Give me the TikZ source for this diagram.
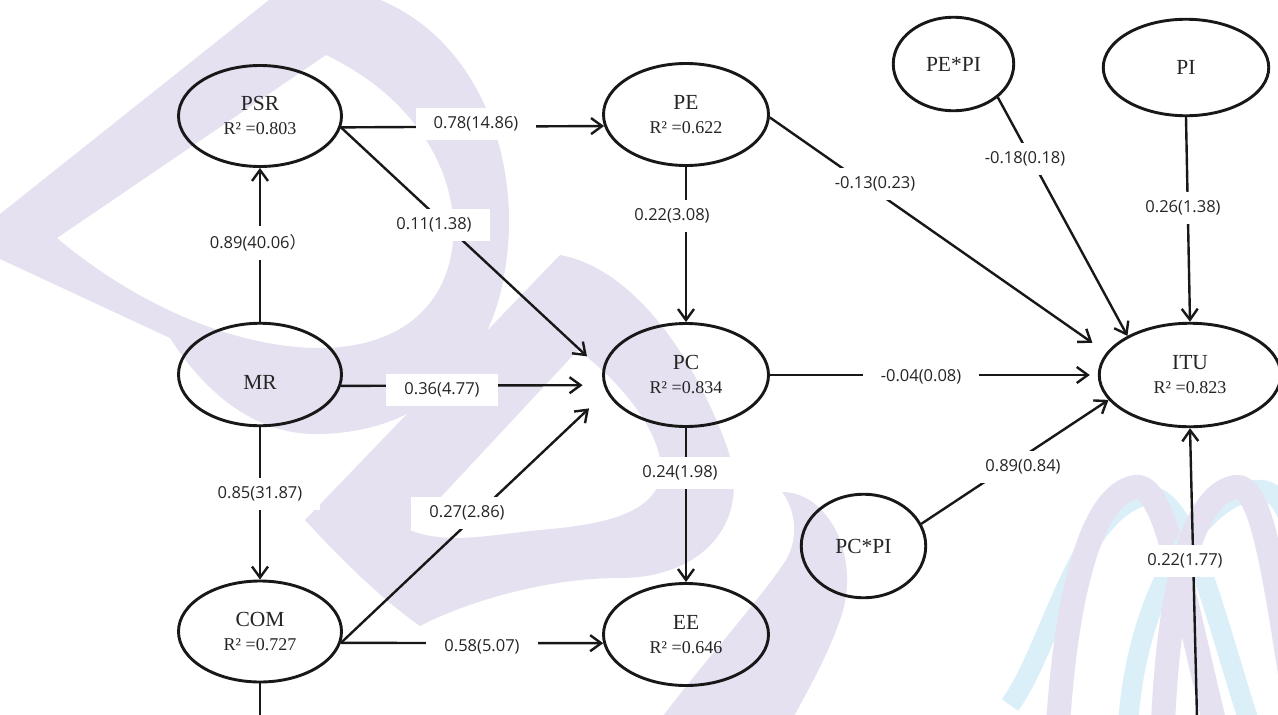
\documentclass[tikz,border=0pt]{standalone}
\usepackage{fontspec}
\setmainfont{Liberation Serif}
\newfontfamily\lblfont{Open Sans}
\newfontfamily\cjkfont{Noto Sans CJK SC}
\usetikzlibrary{arrows.meta,shapes.geometric}
\definecolor{wmlav}{HTML}{E5E1F0}
\definecolor{wmcyan}{HTML}{DAEFF7}
\definecolor{ink}{HTML}{181818}
\definecolor{txt}{HTML}{252525}
\tikzset{
  latent/.style={ellipse, draw=ink, line width=2.9pt, inner sep=0pt, text=txt,
    font=\fontsize{21.5}{24}\selectfont, align=center},
  conn/.style={draw=ink, line width=2.4pt},
  effect/.style={conn, -{Straight Barb[length=11pt,width=16pt]}},
  coef/.style={fill=white, inner xsep=18pt, inner ysep=9pt, text=txt,
    font=\lblfont\fontsize{16.5}{19}\selectfont},
}
\newcommand{\rtwo}[1]{{\fontsize{18}{20}\selectfont R² =#1}}
\begin{document}
\begin{tikzpicture}[x=1pt,y=-1pt]
\useasboundingbox (0,0) rectangle (1278,715);
\fill[white] (0,0) rectangle (1278,715);

% faint background logo
\begin{scope}
  \clip (0,0) rectangle (1278,715);
  % large slanted letter on the left
  \fill[wmlav, even odd rule]
    (-15,226) -- (284,-12) -- (340,-12) .. controls (470,12) and (525,150) .. (505,270)
    .. controls (490,370) and (420,432) .. (320,434) .. controls (250,436) and (200,385) .. (170,338)
    -- (-15,252) -- cycle
    (57,238) -- (326,55) .. controls (420,100) and (462,180) .. (452,250)
    .. controls (442,315) and (390,348) .. (320,348) .. controls (230,348) and (130,300) .. (57,238) -- cycle;
  % second letter in the middle
  \fill[wmlav, even odd rule]
    (305,520) -- (560,255) .. controls (640,270) and (700,370) .. (728,450)
    .. controls (752,525) and (700,578) .. (620,578) .. controls (540,578) and (460,605) .. (420,626)
    .. controls (380,598) and (340,558) .. (305,520) -- cycle
    (410,530) -- (578,350) .. controls (625,385) and (668,440) .. (660,480)
    .. controls (650,515) and (600,525) .. (540,530) .. controls (490,535) and (445,545) .. (410,530) -- cycle;
  % curved stroke at the bottom
  \fill[wmlav]
    (782,492) .. controls (830,492) and (862,560) .. (840,620) .. controls (825,662) and (805,695) .. (792,720)
    -- (660,720) .. controls (705,660) and (760,600) .. (786,560) .. controls (798,540) and (797,512) .. (782,492) -- cycle;
  % ribbons in the lower right corner
  \draw[wmcyan, line width=20pt] (1010,705) .. controls (1050,650) and (1075,520) .. (1140,497)
    .. controls (1185,482) and (1210,600) .. (1250,725);
  \draw[wmlav, line width=24pt] (1058,725) .. controls (1066,600) and (1090,495) .. (1135,487)
    .. controls (1165,482) and (1182,590) .. (1215,725);
  \draw[wmcyan, line width=20pt] (1128,725) .. controls (1136,600) and (1195,500) .. (1255,490)
    .. controls (1295,485) and (1305,560) .. (1320,725);
  \draw[wmlav, line width=24pt] (1163,725) .. controls (1168,600) and (1190,495) .. (1235,487)
    .. controls (1262,483) and (1274,570) .. (1298,725);
\end{scope}

% constructs
\node[latent, minimum width=163pt, minimum height=101pt] (PSR) at (260,116) {PSR\\\rtwo{0.803}};
\node[latent, minimum width=163pt, minimum height=102.5pt, text height=29pt, text depth=0pt] (MR) at (260,374.5) {MR};
\node[latent, minimum width=163pt, minimum height=101pt] (COM) at (260,631.5) {COM\\\rtwo{0.727}};
\node[latent, minimum width=165pt, minimum height=102pt] (PE) at (686,114.5) {PE\\\rtwo{0.622}};
\node[latent, minimum width=165pt, minimum height=103pt] (PC) at (686,375) {PC\\\rtwo{0.834}};
\node[latent, minimum width=165pt, minimum height=102pt] (EE) at (686,634.5) {EE\\\rtwo{0.646}};
\node[latent, minimum width=120.5pt, minimum height=93.5pt] (PEPI) at (953.5,64) {PE*PI};
\node[latent, minimum width=165.5pt, minimum height=96.5pt] (PI) at (1186,67.5) {PI};
\node[latent, minimum width=124.5pt, minimum height=103.5pt] (PCPI) at (863.5,546) {PC*PI};
\node[latent, minimum width=181.5pt, minimum height=103.5pt] (ITU) at (1190,375) {ITU\\\rtwo{0.823}};

% paths that leave the drawing area
\coordinate (COMout) at (260,718);
\coordinate (ITUin) at (1197,718);

% structural paths
\draw[effect] (MR.north) -- (PSR.south);
\draw[effect] (MR.south) -- (COM.north);
\draw[effect] (PSR.-8) -- (PE.188);
\draw[effect, shorten >=21pt] (PSR.-8) -- (PC.177);
\draw[effect, shorten >=21pt] (MR.-8) -- (PC.187);
\draw[effect, shorten >=24pt] (COM.-8) -- (PC.192);
\draw[effect] (COM.-8) -- (EE.186);
\draw[effect] (PE.south) -- (PC.north);
\draw[effect] (PC.south) -- (EE.north);
\draw[effect, shorten >=17pt] (PE.-2) -- (ITU.165);
\draw[effect] (PEPI.-37) -- (ITU.148);
\draw[effect] (PI.south) -- (ITU.north);
\draw[effect, shorten >=8pt] (PC.east) -- (ITU.180);
\draw[effect] (PCPI.21) -- (ITU.197);
\draw[effect] (ITUin) -- (ITU.south);
\draw[conn] (COM.south) -- (COMout);

% path coefficients
\node[coef] (c1) at (258,243) {0.89(40.06{\cjkfont ）}};
\node[coef] (c2) at (260,494) {0.85(31.87)};
\node[coef] (c3) at (476,124) {0.78(14.86)};
\node[coef] (c4) at (434,225) {0.11(1.38)};
\node[coef] (c5) at (442,390) {0.36(4.77)};
\node[coef] (c6) at (467,513) {0.27(2.86)};
\node[coef] (c7) at (482,647) {0.58(5.07)};
\node[coef] (c8) at (672,216) {0.22(3.08)};
\node[coef] (c9) at (680,473) {0.24(1.98)};
\node[coef] (c10) at (875,184) {-0.13(0.23)};
\node[coef] (c11) at (1025,159) {-0.18(0.18)};
\node[coef] (c12) at (1183,208) {0.26(1.38)};
\node[coef] (c13) at (921,377) {-0.04(0.08)};
\node[coef] (c14) at (1023,467) {0.89(0.84)};
\node[coef] (c15) at (1185,561) {0.22(1.77)};
\end{tikzpicture}
\end{document}
